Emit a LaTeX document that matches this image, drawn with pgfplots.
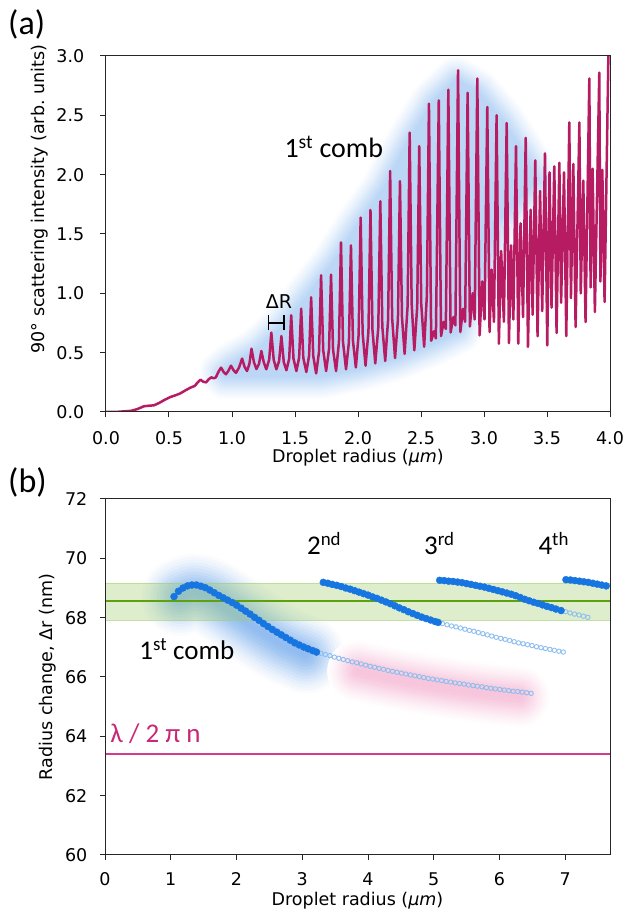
\documentclass[border=0pt]{standalone}
\usepackage{fontspec}
\setmainfont{DejaVu Sans}
\newfontfamily\calfont{Carlito}
\usepackage{pgfplots}
\usepackage{pgfplotstable}
\pgfplotsset{compat=1.18}

\definecolor{curve}{RGB}{183,27,98}
\definecolor{glowa}{RGB}{184,213,246}
\definecolor{glowb}{RGB}{135,182,238}
\definecolor{pinkglow}{RGB}{247,196,219}
\definecolor{solidblue}{RGB}{22,117,224}
\definecolor{hollowblue}{RGB}{140,190,240}
\definecolor{bandgreen}{RGB}{160,205,110}
\definecolor{linegreen}{RGB}{95,160,15}
\definecolor{pinkline}{RGB}{214,58,140}
\definecolor{pinktext}{RGB}{200,40,120}

% (a) scattering spectrum
\pgfplotstableread{
x y
0.000 0.000
0.100 0.002
0.200 0.010
0.250 0.025
0.300 0.048
0.340 0.053
0.380 0.056
0.420 0.075
0.470 0.105
0.510 0.126
0.550 0.140
0.590 0.157
0.630 0.182
0.670 0.205
0.705 0.220
0.728 0.250
0.750 0.272
0.772 0.255
0.795 0.250
0.815 0.276
0.835 0.292
0.855 0.284
0.872 0.292
0.893 0.340
0.913 0.374
0.933 0.338
0.952 0.318
0.972 0.348
0.992 0.390
1.012 0.352
1.032 0.330
1.056 0.375
1.080 0.450
1.100 0.380
1.119 0.345
1.138 0.405
1.155 0.533
1.174 0.420
1.194 0.362
1.214 0.405
1.233 0.514
1.252 0.420
1.272 0.360
1.295 0.440
1.312 0.669
1.331 0.440
1.352 0.360
1.374 0.430
1.392 0.640
1.411 0.420
1.432 0.352
1.454 0.450
1.470 0.815
1.488 0.450
1.511 0.345
1.533 0.460
1.549 0.871
1.566 0.455
1.590 0.337
1.612 0.475
1.628 0.966
1.645 0.470
1.668 0.325
1.691 0.510
1.707 1.152
1.724 0.520
1.747 0.345
1.770 0.530
1.786 1.157
1.802 0.525
1.826 0.345
1.849 0.590
1.865 1.430
1.881 0.590
1.905 0.360
1.928 0.590
1.944 1.404
1.960 0.600
1.983 0.375
2.005 0.650
2.021 1.638
2.037 0.660
2.060 0.390
2.083 0.680
2.099 1.702
2.115 0.690
2.137 0.410
2.161 0.710
2.177 1.776
2.193 0.720
2.216 0.430
2.239 0.780
2.255 2.030
2.271 0.790
2.294 0.455
2.317 0.780
2.333 1.945
2.349 0.800
2.370 0.490
2.394 0.900
2.410 2.354
2.426 0.910
2.447 0.520
2.470 0.890
2.486 2.241
2.502 0.910
2.525 0.550
2.547 0.990
2.563 2.598
2.581 0.600
2.603 0.680
2.618 0.620
2.641 2.626
2.659 0.640
2.680 0.760
2.697 0.700
2.717 2.716
2.735 0.670
2.757 0.800
2.773 0.730
2.794 2.880
2.812 0.674
2.834 0.870
2.850 0.760
2.870 2.690
2.888 0.720
2.910 1.000
2.926 0.780
2.947 2.810
2.965 0.646
2.986 1.100
3.004 0.780
3.026 2.570
3.044 0.674
3.060 1.200
3.079 0.760
3.100 2.500
3.118 0.576
3.136 1.356
3.158 0.760
3.180 2.435
3.198 0.580
3.215 1.404
3.233 0.780
3.254 2.240
3.272 0.576
3.290 1.590
3.310 0.800
3.331 2.310
3.349 0.548
3.370 1.705
3.386 0.820
3.407 2.120
3.425 0.638
3.445 1.862
3.462 0.850
3.484 2.180
3.502 0.562
3.520 2.020
3.536 0.880
3.558 2.070
3.576 0.666
3.598 2.100
3.612 0.920
3.635 2.020
3.653 0.640
3.677 2.440
3.690 0.960
3.709 2.090
3.727 0.716
3.757 2.440
3.768 1.000
3.788 1.950
3.806 0.758
3.836 2.810
3.846 1.050
3.862 2.050
3.880 0.842
3.915 2.860
3.924 1.100
3.939 2.040
3.957 0.927
3.987 2.990
4.000 3.100
}\spectrum

% outline of the blue glow behind the first comb in (a)
\pgfplotstableread{
x y
0.92 0.33
1.00 0.40
1.20 0.52
1.40 0.72
1.60 0.98
1.80 1.25
2.00 1.58
2.20 1.88
2.40 2.28
2.60 2.62
2.78 2.80
2.95 2.70
3.15 2.45
3.35 2.12
3.42 1.95
3.33 1.85
3.10 1.60
2.95 1.10
2.80 0.68
2.60 0.58
2.30 0.45
2.00 0.36
1.70 0.30
1.40 0.30
1.10 0.30
0.95 0.30
0.92 0.33
}\glowpoly

% spines of the soft blobs in (b)
\pgfplotstableread{
x y
1.15 68.70
1.35 68.85
1.60 68.70
1.85 68.35
2.10 67.95
2.40 67.50
2.70 67.10
2.95 66.85
3.05 66.75
}\blobblue

\pgfplotstableread{
x y
3.85 66.20
4.30 65.98
4.80 65.78
5.30 65.60
5.80 65.45
6.30 65.33
}\blobpink

% (b) radius change per comb
\pgfplotstableread{
x y
1.050 68.71
1.118 68.89
1.186 69.00
1.254 69.07
1.322 69.10
1.390 69.10
1.458 69.06
1.526 69.01
1.594 68.93
1.662 68.84
1.730 68.75
1.798 68.67
1.866 68.59
1.934 68.51
2.002 68.42
2.070 68.32
2.138 68.22
2.206 68.12
2.274 68.01
2.342 67.91
2.410 67.80
2.478 67.70
2.546 67.60
2.614 67.51
2.682 67.42
2.750 67.33
2.818 67.24
2.886 67.15
2.954 67.08
3.022 67.01
3.090 66.95
3.158 66.89
3.216 66.84
}\firstsolid

\pgfplotstableread{
x y
3.284 66.80
3.352 66.76
3.420 66.72
3.488 66.67
3.556 66.63
3.624 66.59
3.692 66.55
3.760 66.51
3.828 66.48
3.896 66.44
3.964 66.40
4.032 66.36
4.100 66.33
4.168 66.29
4.236 66.26
4.304 66.22
4.372 66.19
4.440 66.16
4.508 66.13
4.576 66.10
4.644 66.07
4.712 66.04
4.780 66.01
4.848 65.98
4.916 65.95
4.984 65.93
5.052 65.90
5.120 65.88
5.188 65.85
5.256 65.83
5.324 65.80
5.392 65.78
5.460 65.76
5.528 65.73
5.596 65.71
5.664 65.69
5.732 65.67
5.800 65.64
5.868 65.62
5.936 65.60
6.004 65.58
6.072 65.56
6.140 65.54
6.208 65.52
6.276 65.51
6.344 65.49
6.412 65.47
6.480 65.45
}\firsthollow

\pgfplotstableread{
x y
3.320 69.19
3.388 69.16
3.456 69.12
3.524 69.09
3.592 69.05
3.660 69.00
3.728 68.96
3.796 68.91
3.864 68.86
3.932 68.81
4.000 68.76
4.068 68.70
4.136 68.65
4.204 68.59
4.272 68.53
4.340 68.47
4.408 68.40
4.476 68.33
4.544 68.27
4.612 68.20
4.680 68.14
4.748 68.08
4.816 68.02
4.884 67.97
4.952 67.92
5.020 67.87
5.066 67.84
}\secondsolid

\pgfplotstableread{
x y
5.134 67.80
5.202 67.76
5.270 67.72
5.338 67.69
5.406 67.65
5.474 67.61
5.542 67.57
5.610 67.54
5.678 67.50
5.746 67.46
5.814 67.42
5.882 67.38
5.950 67.34
6.018 67.30
6.086 67.27
6.154 67.23
6.222 67.19
6.290 67.15
6.358 67.12
6.426 67.09
6.494 67.06
6.562 67.02
6.630 66.99
6.698 66.96
6.766 66.93
6.834 66.90
6.902 66.87
6.970 66.84
}\secondhollow

\pgfplotstableread{
x y
5.090 69.26
5.158 69.25
5.226 69.23
5.294 69.22
5.362 69.20
5.430 69.18
5.498 69.15
5.566 69.12
5.634 69.09
5.702 69.06
5.770 69.03
5.838 68.99
5.906 68.95
5.974 68.91
6.042 68.87
6.110 68.83
6.178 68.79
6.246 68.74
6.314 68.68
6.382 68.62
6.450 68.57
6.518 68.52
6.586 68.48
6.654 68.43
6.722 68.38
6.790 68.34
6.858 68.29
6.936 68.24
}\thirdsolid

\pgfplotstableread{
x y
7.004 68.20
7.072 68.16
7.140 68.12
7.208 68.09
7.276 68.05
7.344 68.01
}\thirdhollow

\pgfplotstableread{
x y
7.010 69.28
7.078 69.27
7.146 69.25
7.214 69.23
7.282 69.21
7.350 69.19
7.418 69.16
7.486 69.13
7.554 69.10
7.622 69.07
}\fourthsolid

\pgfplotsset{
  panel/.style={
    scale only axis,
    axis on top,
    anchor=north west,
    tick align=outside,
    tick pos=left,
    major tick length=5.5pt,
    tick style={black!85, line width=1pt},
    axis line style={black!85, line width=1pt},
    /pgf/number format/assume math mode=true,
    tick label style={font=\fontsize{17.5}{20}\selectfont},
    xticklabel style={anchor=base, yshift=-27pt, inner sep=0pt},
    every axis x label/.style={at={(rel axis cs:0.5,0)}, anchor=base, yshift=-51pt,
      font=\fontsize{17.5}{20}\selectfont},
  },
  glowlayer/.style={draw=glowa!#1!white, fill=glowa!#1!white, line join=round, line cap=round},
  blueblob/.style={draw=glowb!#1!white, line cap=round, line join=round, smooth},
  pinkblob/.style={draw=pinkglow!#1!white, line cap=round, line join=round, smooth},
}

\begin{document}
\begin{tikzpicture}
\useasboundingbox (0,0) rectangle (632pt,911pt);

\node[font=\calfont\fontsize{34}{36}\selectfont, anchor=base west, inner sep=0pt] at (8pt,876pt) {(a)};
\node[font=\calfont\fontsize{34}{36}\selectfont, anchor=base west, inner sep=0pt] at (8pt,418pt) {(b)};

%% (a)
\begin{axis}[panel,
  at={(106pt,855pt)}, width=504pt, height=356pt,
  xmin=0, xmax=4, ymin=0, ymax=3,
  xtick={0,0.5,1,1.5,2,2.5,3,3.5,4},
  ytick={0,0.5,1,1.5,2,2.5,3},
  x tick label style={/pgf/number format/fixed, /pgf/number format/fixed zerofill, /pgf/number format/precision=1},
  y tick label style={/pgf/number format/fixed, /pgf/number format/fixed zerofill, /pgf/number format/precision=1,
    anchor=east, inner sep=0pt, xshift=-16pt},
  xlabel={Droplet radius (\textit{μm})},
  ylabel={90° scattering intensity (arb.\ units)},
  every axis y label/.style={at={(rel axis cs:-0.131,0.598)}, rotate=90, anchor=center,
    font=\fontsize{17.5}{20}\selectfont},
]
\addplot[glowlayer=5, line width=46pt] table {\glowpoly};
\addplot[glowlayer=11, line width=42pt] table {\glowpoly};
\addplot[glowlayer=18, line width=38pt] table {\glowpoly};
\addplot[glowlayer=26, line width=34pt] table {\glowpoly};
\addplot[glowlayer=34, line width=30pt] table {\glowpoly};
\addplot[glowlayer=43, line width=26pt] table {\glowpoly};
\addplot[glowlayer=52, line width=22pt] table {\glowpoly};
\addplot[glowlayer=61, line width=18pt] table {\glowpoly};
\addplot[glowlayer=70, line width=14pt] table {\glowpoly};
\addplot[glowlayer=79, line width=10pt] table {\glowpoly};
\addplot[glowlayer=88, line width=6pt] table {\glowpoly};
\addplot[glowlayer=95, line width=2pt] table {\glowpoly};

\addplot[curve, line width=2.5pt, line join=round] table {\spectrum};

\node[font=\calfont\fontsize{28}{30}\selectfont, anchor=base east, inner sep=0pt] at (axis cs:2.20,2.146) {1\textsuperscript{st} comb};
\node[font=\fontsize{19}{20}\selectfont, anchor=base, inner sep=0pt] at (axis cs:1.372,0.872) {ΔR};
\draw[line width=1.6pt] (axis cs:1.29,0.688) -- (axis cs:1.29,0.814)
  (axis cs:1.29,0.751) -- (axis cs:1.415,0.751)
  (axis cs:1.415,0.688) -- (axis cs:1.415,0.814);
\end{axis}

%% (b)
\begin{axis}[panel,
  at={(105pt,412pt)}, width=505pt, height=356pt,
  xmin=0, xmax=7.68, ymin=60, ymax=72,
  xtick={0,1,2,3,4,5,6,7},
  ytick={60,62,64,66,68,70,72},
  y tick label style={anchor=east, inner sep=0pt, xshift=-12pt},
  xticklabel style={yshift=2pt},
  xlabel={Droplet radius (\textit{μm})},
  ylabel={Radius change, Δr (nm)},
  every axis y label/.style={at={(rel axis cs:-0.113,0.5)}, rotate=90, anchor=center,
    font=\fontsize{17.5}{20}\selectfont},
]
\addplot[blueblob=4, line width=78pt] table {\blobblue};
\addplot[blueblob=9, line width=72pt] table {\blobblue};
\addplot[blueblob=15, line width=66pt] table {\blobblue};
\addplot[blueblob=22, line width=60pt] table {\blobblue};
\addplot[blueblob=30, line width=54pt] table {\blobblue};
\addplot[blueblob=38, line width=48pt] table {\blobblue};
\addplot[blueblob=47, line width=42pt] table {\blobblue};
\addplot[blueblob=56, line width=36pt] table {\blobblue};
\addplot[blueblob=65, line width=30pt] table {\blobblue};
\addplot[blueblob=73, line width=24pt] table {\blobblue};
\addplot[blueblob=80, line width=18pt] table {\blobblue};
\addplot[blueblob=86, line width=12pt] table {\blobblue};
\addplot[blueblob=90, line width=6pt] table {\blobblue};

\addplot[draw=bandgreen, draw opacity=0.5, line width=0.8pt, fill=bandgreen, fill opacity=0.35]
  coordinates {(0,67.9) (7.68,67.9) (7.68,69.17) (0,69.17) (0,67.9)};
\addplot[linegreen, line width=2.2pt] coordinates {(0,68.55) (7.68,68.55)};

\addplot[pinkblob=4, line width=62pt] table {\blobpink};
\addplot[pinkblob=10, line width=57pt] table {\blobpink};
\addplot[pinkblob=17, line width=52pt] table {\blobpink};
\addplot[pinkblob=25, line width=47pt] table {\blobpink};
\addplot[pinkblob=34, line width=42pt] table {\blobpink};
\addplot[pinkblob=44, line width=37pt] table {\blobpink};
\addplot[pinkblob=54, line width=32pt] table {\blobpink};
\addplot[pinkblob=64, line width=27pt] table {\blobpink};
\addplot[pinkblob=74, line width=22pt] table {\blobpink};
\addplot[pinkblob=83, line width=17pt] table {\blobpink};
\addplot[pinkblob=91, line width=12pt] table {\blobpink};
\addplot[pinkblob=97, line width=6pt] table {\blobpink};

\addplot[pinkline, line width=2pt] coordinates {(0,63.42) (7.68,63.42)};

\addplot[only marks, mark=o, mark size=2.2pt, hollowblue, mark options={line width=0.9pt}] table {\firsthollow};
\addplot[only marks, mark=o, mark size=2.2pt, hollowblue, mark options={line width=0.9pt}] table {\secondhollow};
\addplot[only marks, mark=o, mark size=2.2pt, hollowblue, mark options={line width=0.9pt}] table {\thirdhollow};
\addplot[only marks, mark=*, mark size=3.5pt, solidblue] table {\firstsolid};
\addplot[only marks, mark=*, mark size=3.5pt, solidblue] table {\secondsolid};
\addplot[only marks, mark=*, mark size=3.5pt, solidblue] table {\thirdsolid};
\addplot[only marks, mark=*, mark size=3.5pt, solidblue] table {\fourthsolid};

\node[font=\calfont\fontsize{27}{30}\selectfont, anchor=base west, inner sep=0pt] at (axis cs:0.52,66.6) {1\textsuperscript{st} comb};
\node[font=\calfont\fontsize{27}{30}\selectfont, anchor=base west, inner sep=0pt] at (axis cs:3.07,70.12) {2\textsuperscript{nd}};
\node[font=\calfont\fontsize{27}{30}\selectfont, anchor=base west, inner sep=0pt] at (axis cs:4.85,70.12) {3\textsuperscript{rd}};
\node[font=\calfont\fontsize{27}{30}\selectfont, anchor=base west, inner sep=0pt] at (axis cs:6.59,70.12) {4\textsuperscript{th}};
\node[font=\calfont\fontsize{27}{30}\selectfont, anchor=base west, inner sep=0pt, text=pinktext] at (axis cs:0.08,63.78) {λ / 2 π n};
\end{axis}
\end{tikzpicture}
\end{document}
